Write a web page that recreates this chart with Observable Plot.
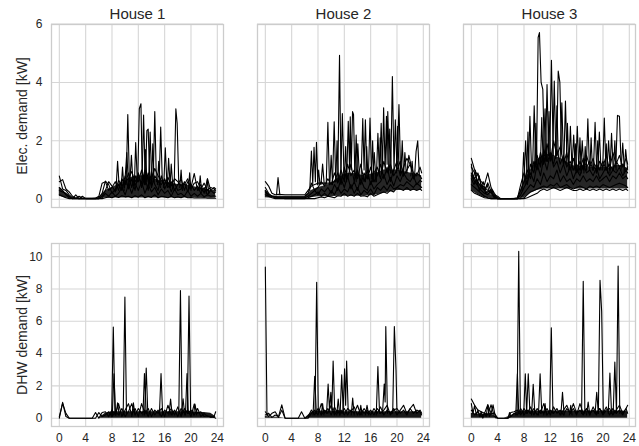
<!DOCTYPE html>
<html>
<head>
<meta charset="utf-8">
<script src="https://cdn.jsdelivr.net/npm/d3@7"></script>
<script src="https://cdn.jsdelivr.net/npm/@observablehq/plot@0.6"></script>
<style>
  html, body { margin: 0; padding: 0; background: #fff; }
  #chart svg { display: block; }
</style>
</head>
<body>
<div id="chart"></div>
<script>
// ---------- categories / ticks ----------
const houses = ["House 1", "House 2", "House 3"];
const xTicks = [0, 4, 8, 12, 16, 20, 24];
const elecTicks = [0, 2, 4, 6];
const dhwTicks = [0, 2, 4, 6, 8, 10];
const hours = [0,0.5,1,1.5,2,2.5,3,3.5, 4,4.5,5,5.5,6,6.5,7,7.5, 8,8.5,9,9.5,10,10.5,11,11.5,
  12,12.5,13,13.5,14,14.5,15,15.5, 16,16.5,17,17.5,18,18.5,19,19.5, 20,20.5,21,21.5,22,22.5,23,23.5, 23.75];
const envHours = [0,1,2,3,4,5,6,7,8,9,10,11,12,13,14,15,16,17,18,19,20,21,22,23,23.75];

// ---------- electricity, House 1 ----------
const elecH1 = [
  [0.79,0.35,0.30,0.15,0.05,0.03,0.10,0.03, 0.03,0.03,0.03,0.03,0.10,0.55,0.60,0.30,
   0.40,0.60,0.30,0.70,0.50,0.90,0.40,0.80, 0.60,1.00,0.50,0.90,0.40,0.80,0.60,0.50,
   0.70,0.40,0.60,0.30,0.50,0.70,0.30,0.60, 0.40,0.88,0.30,0.50,0.20,0.70,0.30,0.40, 0.35],
  [0.60,0.67,0.35,0.25,0.10,0.03,0.02,0.02, 0.02,0.02,0.02,0.02,0.05,0.20,0.62,0.50,
   0.20,0.35,0.50,0.30,0.80,0.35,0.70,0.30, 0.90,0.40,0.75,0.30,0.95,0.50,0.30,0.80,
   0.35,0.60,0.25,0.55,0.30,0.35,0.60,0.25, 0.50,0.30,0.45,0.20,0.40,0.15,0.30,0.20, 0.25],
  [0.30,0.25,0.20,0.10,0.02,0.02,0.02,0.10, 0.02,0.02,0.02,0.02,0.02,0.05,0.20,0.10,
   0.25,0.10,0.20,0.40,0.15,0.50,0.20,0.55, 0.30,0.60,0.20,0.50,0.25,0.40,0.15,0.35,
   0.20,0.30,0.10,0.35,0.15,0.20,0.10,0.30, 0.10,0.20,0.10,0.20,0.08,0.15,0.10,0.12, 0.10],
  [0.15,0.10,0.05,0.02,0.02,0.02,0.02,0.02, 0.02,0.02,0.02,0.02,0.02,0.02,0.05,0.08,
   0.05,0.10,0.06,0.12,0.08,0.10,0.05,0.12, 0.07,0.15,0.05,0.10,0.06,0.15,0.05,0.10,
   0.08,0.05,0.10,0.05,0.08,0.05,0.10,0.05, 0.06,0.04,0.05,0.04,0.05,0.03,0.04,0.03, 0.03],
  [0.40,0.30,0.15,0.05,0.02,0.15,0.02,0.02, 0.02,0.02,0.02,0.02,0.02,0.10,0.30,0.60,
   0.45,0.25,0.65,0.45,0.60,0.70,0.95,0.60, 0.75,0.55,1.00,0.65,0.70,1.05,0.80,0.65,
   0.50,0.75,0.45,0.70,0.60,0.45,0.50,0.70, 0.35,0.55,0.60,0.35,0.55,0.30,0.40,0.35, 0.30]
];
const elecH1Peaks = [
  [[10.15,0.5],[10.4,2.9],[10.65,0.6]],
  [[9.9,0.4],[10.25,1.6],[10.5,0.5]],
  [[11.4,0.5],[11.6,1.94],[11.85,0.6]],
  [[11.9,0.6],[12.15,3.1],[12.4,3.27],[12.6,0.7]],
  [[12.55,0.5],[12.8,2.88],[13.05,0.6]],
  [[13.05,0.5],[13.3,2.35],[13.5,2.4],[13.75,0.6]],
  [[13.55,0.5],[13.8,2.3],[14.05,0.5]],
  [[14.25,0.6],[14.5,3.0],[14.75,0.6]],
  [[15.15,0.5],[15.4,2.47],[15.65,0.6]],
  [[15.85,0.4],[16.1,1.76],[16.35,0.5]],
  [[17.45,0.5],[17.7,3.1],[17.9,2.6],[18.15,0.5]],
  [[9.4,0.4],[9.6,1.1],[9.85,0.3]],
  [[14.9,0.5],[15.1,1.3],[15.35,0.4]],
  [[16.8,0.4],[17.0,1.2],[17.25,0.4]],
  [[8.6,0.3],[8.85,1.3],[9.1,0.4]],
  [[10.7,0.5],[10.95,1.5],[11.2,0.5]],
  [[12.9,0.5],[13.1,1.7],[13.3,0.6]],
  [[14.0,0.5],[14.2,1.9],[14.4,0.6]],
  [[16.4,0.4],[16.6,1.4],[16.85,0.4]],
  [[18.3,0.4],[18.5,1.0],[18.7,0.3]],
  [[19.6,0.3],[19.8,0.9],[20.0,0.3]],
  [[21.2,0.3],[21.4,0.8],[21.6,0.3]],
  [[22.3,0.2],[22.5,0.7],[22.7,0.2]]
];
const elecH1Lo = [0.10,0.03,0.02,0.02,0.02,0.02,0.02,0.04,0.04,0.04,0.04,0.04,0.04,0.04,0.04,0.04,0.04,0.04,0.04,0.04,0.04,0.04,0.03,0.03,0.03];
const elecH1Hi = [0.40,0.20,0.03,0.03,0.03,0.03,0.05,0.30,0.40,0.50,0.65,0.75,0.80,0.80,0.75,0.65,0.60,0.55,0.50,0.50,0.45,0.40,0.35,0.30,0.30];

// ---------- electricity, House 2 ----------
const elecH2 = [
  [0.60,0.45,0.20,0.15,0.17,0.16,0.15,0.15, 0.15,0.15,0.15,0.15,0.15,0.30,0.45,0.50,
   0.55,0.55,0.55,0.55,0.55,0.60,0.90,0.50, 1.10,0.70,1.20,0.60,1.00,0.50,0.90,0.70,
   1.10,0.60,0.80,1.20,0.70,1.10,0.60,1.00, 1.30,0.80,1.10,1.40,1.20,0.90,0.80,1.10, 0.90],
  [0.40,0.20,0.10,0.05,0.05,0.05,0.05,0.05, 0.05,0.05,0.05,0.05,0.05,0.10,0.20,0.30,
   0.15,0.35,0.25,0.40,0.20,0.50,0.30,0.70, 0.40,0.80,0.35,0.60,0.30,0.70,0.40,0.30,
   0.60,0.35,0.50,0.60,0.85,0.50,0.75,0.45, 0.80,0.60,0.90,0.70,0.60,0.80,0.50,0.65, 0.60],
  [0.25,0.10,0.10,0.08,0.05,0.03,0.02,0.02, 0.02,0.02,0.02,0.02,0.02,0.05,0.10,0.15,
   0.25,0.10,0.20,0.10,0.30,0.15,0.40,0.20, 0.35,0.25,0.50,0.20,0.40,0.15,0.30,0.20,
   0.35,0.15,0.40,0.30,0.45,0.30,0.50,0.35, 0.40,0.50,0.45,0.60,0.50,0.40,0.55,0.45, 0.40],
  [0.15,0.10,0.05,0.02,0.02,0.02,0.02,0.02, 0.02,0.02,0.02,0.02,0.02,0.02,0.02,0.02,
   0.05,0.08,0.05,0.10,0.08,0.05,0.12,0.10, 0.20,0.10,0.15,0.10,0.20,0.10,0.12,0.08,
   0.20,0.10,0.15,0.20,0.25,0.20,0.30,0.25, 0.40,0.35,0.30,0.40,0.30,0.35,0.30,0.35, 0.30],
  [0.30,0.15,0.12,0.10,0.10,0.10,0.10,0.10, 0.10,0.10,0.10,0.10,0.10,0.20,0.55,0.30,
   0.40,0.60,0.45,0.70,0.50,0.90,0.55,1.00, 0.60,1.20,0.80,1.00,0.70,1.20,0.60,1.00,
   0.50,0.90,1.10,0.70,1.30,0.90,1.20,0.80, 1.00,1.30,0.80,1.00,1.20,0.70,0.90,0.80, 0.70]
];
const elecH2Peaks = [
  [[11.0,0.6],[11.27,4.93],[11.5,0.7]],
  [[9.25,0.5],[9.5,2.63],[9.75,0.5]],
  [[10.2,0.5],[10.46,2.65],[10.7,0.6]],
  [[6.75,0.3],[7.0,1.65],[7.2,0.5],[7.4,1.78],[7.6,0.6],[7.77,1.95],[8.0,0.5]],
  [[11.45,0.6],[11.7,2.93],[11.95,0.8]],
  [[12.35,0.6],[12.6,2.67],[12.8,1.0],[12.9,2.82],[13.05,1.0],[13.25,3.0],[13.4,2.9],[13.6,0.8]],
  [[14.55,0.7],[14.8,2.76],[15.0,1.0],[15.2,2.72],[15.45,0.7]],
  [[15.65,0.7],[15.9,2.78],[16.15,0.8]],
  [[16.85,0.6],[17.1,2.26],[17.35,0.8],[17.6,2.6],[17.8,1.0],[17.97,3.13],[18.2,1.0],[18.4,2.84],[18.5,1.2],[18.6,3.0],[18.85,1.0]],
  [[19.05,0.9],[19.3,4.2],[19.55,1.0],[19.75,2.72],[20.0,1.0],[20.3,3.24],[20.55,0.9]],
  [[22.65,0.7],[22.9,1.63],[23.15,2.0],[23.4,0.8]],
  [[1.7,0.15],[1.93,0.74],[2.2,0.15]],
  [[21.5,0.9],[21.8,1.5],[22.1,1.2]],
  [[13.8,0.6],[14.05,1.9],[14.3,0.7]],
  [[16.3,0.6],[16.55,1.6],[16.8,0.6]],
  [[12.0,0.6],[12.2,1.8],[12.4,0.7]],
  [[8.45,0.5],[8.7,1.2],[8.95,0.5]],
  [[9.8,0.5],[10.0,1.5],[10.2,0.6]],
  [[10.7,0.6],[10.9,2.0],[11.1,0.6]],
  [[13.6,0.7],[13.8,2.2],[14.0,0.8]],
  [[15.2,0.6],[15.4,1.8],[15.6,0.7]],
  [[16.1,0.7],[16.3,2.0],[16.5,0.6]],
  [[17.3,0.8],[17.45,2.1],[17.65,0.9]],
  [[18.7,0.9],[18.9,2.4],[19.1,0.9]],
  [[19.9,0.9],[20.1,2.5],[20.3,1.0]],
  [[20.6,0.9],[20.8,2.0],[21.0,0.8]],
  [[21.0,0.8],[21.2,1.6],[21.4,0.9]],
  [[22.1,0.8],[22.3,1.3],[22.5,0.7]],
  [[7.9,0.5],[8.1,1.0],[8.3,0.5]]
];
const elecH2Lo = [0.05,0.03,0.02,0.02,0.02,0.02,0.02,0.05,0.08,0.08,0.08,0.10,0.10,0.10,0.10,0.10,0.12,0.15,0.20,0.25,0.30,0.30,0.30,0.30,0.30];
const elecH2Hi = [0.30,0.10,0.08,0.08,0.08,0.08,0.08,0.30,0.40,0.45,0.55,0.70,0.85,0.90,0.85,0.80,0.85,0.90,1.00,1.00,1.00,0.95,0.90,0.85,0.80];

// ---------- electricity, House 3 ----------
const elecH3 = [
  [1.40,1.00,0.80,0.60,0.50,0.90,0.40,0.20, 0.05,0.02,0.02,0.02,0.02,0.02,0.05,0.30,
   0.60,1.00,0.70,1.30,1.00,1.60,1.20,1.90, 1.30,2.00,1.50,1.80,1.20,1.60,1.00,1.40,
   0.90,1.30,1.00,1.50,1.10,1.40,0.90,1.30, 1.10,1.50,1.00,1.60,1.20,1.50,1.10,1.40, 1.20],
  [1.10,0.90,0.60,0.40,0.30,0.56,0.25,0.10, 0.02,0.02,0.02,0.02,0.02,0.02,0.02,0.15,
   0.40,0.60,0.90,0.60,1.20,0.80,1.40,1.00, 1.60,1.10,1.30,0.90,1.20,0.80,1.10,0.70,
   1.00,0.80,1.20,0.90,1.00,0.80,1.10,0.70, 0.90,1.10,0.80,1.00,0.90,1.10,0.80,1.00, 0.90],
  [0.80,0.60,0.45,0.30,0.20,0.15,0.35,0.05, 0.02,0.02,0.02,0.02,0.02,0.02,0.02,0.05,
   0.20,0.35,0.50,0.40,0.70,0.50,0.90,0.60, 0.80,0.70,1.00,0.60,0.80,0.60,0.70,0.50,
   0.70,0.60,0.80,0.60,0.70,0.60,0.80,0.60, 0.70,0.80,0.60,0.80,0.70,0.90,0.70,0.80, 0.70],
  [0.50,0.40,0.30,0.20,0.10,0.05,0.02,0.02, 0.02,0.02,0.02,0.02,0.02,0.02,0.02,0.02,
   0.05,0.15,0.25,0.30,0.35,0.40,0.45,0.40, 0.50,0.45,0.55,0.40,0.45,0.50,0.40,0.35,
   0.40,0.45,0.40,0.35,0.45,0.40,0.45,0.40, 0.50,0.45,0.40,0.45,0.50,0.55,0.50,0.45, 0.40],
  [0.30,0.20,0.15,0.10,0.05,0.03,0.02,0.02, 0.02,0.02,0.02,0.02,0.02,0.02,0.02,0.02,
   0.02,0.05,0.10,0.15,0.20,0.30,0.35,0.30, 0.35,0.40,0.35,0.30,0.35,0.40,0.35,0.30,
   0.30,0.35,0.30,0.35,0.30,0.35,0.30,0.35, 0.30,0.35,0.30,0.35,0.30,0.35,0.30,0.35, 0.30],
  [0.90,0.70,0.90,0.50,0.40,0.30,0.20,0.05, 0.02,0.02,0.02,0.02,0.02,0.02,0.02,0.50,
   0.90,0.50,1.20,0.90,1.50,1.10,1.70,1.30, 1.50,1.20,1.70,1.20,1.50,1.10,1.30,1.00,
   1.20,1.00,1.40,1.10,1.30,1.00,1.20,1.00, 1.30,1.00,1.20,1.00,1.30,1.10,1.20,1.00, 1.10]
];
const elecH3Peaks = [
  [[9.9,1.2],[10.15,5.54],[10.35,5.71],[10.6,4.0],[10.86,3.76],[11.1,1.5]],
  [[11.25,1.3],[11.5,3.93],[11.75,1.5]],
  [[12.35,1.3],[12.6,4.05],[12.85,1.4]],
  [[11.9,1.4],[12.17,4.76],[12.45,1.5]],
  [[12.95,1.5],[13.2,4.39],[13.45,4.0],[13.7,1.6]],
  [[9.3,1.0],[9.55,3.2],[9.8,1.2]],
  [[8.65,0.8],[8.9,2.84],[9.15,1.0]],
  [[14.05,1.2],[14.3,3.36],[14.55,1.2]],
  [[14.8,1.0],[15.05,2.5],[15.3,1.0]],
  [[15.85,1.0],[16.1,2.5],[16.35,0.9]],
  [[17.45,1.0],[17.7,2.75],[17.95,1.0]],
  [[18.55,1.0],[18.8,2.63],[19.05,1.0]],
  [[19.95,1.0],[20.2,2.78],[20.45,1.0]],
  [[21.05,0.9],[21.3,2.26],[21.55,1.0]],
  [[21.95,1.1],[22.2,2.87],[22.5,2.84],[22.75,1.2]],
  [[22.75,1.0],[23.0,1.92],[23.25,1.0]],
  [[10.9,1.2],[11.2,3.1],[11.45,1.3]],
  [[13.5,1.4],[13.75,3.3],[14.0,1.3]],
  [[15.3,1.1],[15.55,2.2],[15.8,1.0]],
  [[16.6,1.0],[16.85,2.0],[17.1,1.0]],
  [[19.2,1.0],[19.45,2.3],[19.7,1.0]],
  [[20.6,1.0],[20.85,2.0],[21.1,1.0]],
  [[8.0,0.6],[8.25,2.0],[8.5,0.7]],
  [[7.7,0.3],[7.95,1.6],[8.2,0.5]],
  [[8.4,0.7],[8.6,2.3],[8.8,0.8]],
  [[9.6,1.0],[9.8,2.6],[10.0,1.1]],
  [[10.5,1.2],[10.7,2.8],[10.9,1.3]],
  [[11.6,1.3],[11.8,3.0],[12.0,1.4]],
  [[12.8,1.4],[13.0,3.2],[13.2,1.5]],
  [[14.4,1.2],[14.6,2.6],[14.8,1.2]],
  [[15.6,1.0],[15.8,1.9],[16.0,1.0]],
  [[16.3,1.0],[16.5,2.1],[16.7,0.9]],
  [[17.1,0.9],[17.3,1.8],[17.5,1.0]],
  [[18.0,1.0],[18.2,2.1],[18.4,1.0]],
  [[19.0,0.9],[19.2,2.0],[19.4,1.0]],
  [[20.3,1.0],[20.5,1.9],[20.7,0.9]],
  [[21.6,1.0],[21.8,2.0],[22.0,1.0]],
  [[23.2,0.9],[23.45,1.7],[23.75,1.0]],
  [[0,1.2],[0.3,0.7],[0.6,1.0],[0.9,0.5],[1.2,0.8],[1.5,0.4],[1.8,0.6],[2.1,0.3],[2.4,0.5],[2.8,0.2],[3.2,0.3],[3.6,0.1],[4.0,0.02]],
  [[0,0.7],[0.4,0.5],[0.8,0.7],[1.2,0.3],[1.7,0.45],[2.2,0.2],[2.7,0.3],[3.3,0.15],[4.0,0.1],[4.4,0.02]]
];
const elecH3Lo = [0.30,0.15,0.05,0.02,0.02,0.02,0.02,0.02,0.05,0.20,0.30,0.35,0.35,0.35,0.35,0.35,0.35,0.35,0.35,0.35,0.35,0.35,0.35,0.35,0.35];
const elecH3Hi = [0.90,0.60,0.35,0.15,0.02,0.02,0.02,0.03,0.60,1.00,1.35,1.50,1.55,1.45,1.35,1.20,1.10,1.15,1.10,1.05,1.10,1.05,1.15,1.15,1.05];

// ---------- DHW, House 1 ----------
const dhwH1 = [
  [0.00,0.98,0.10,0.00,0.00,0.00,0.00,0.00, 0.00,0.00,0.00,0.35,0.00,0.35,0.40,0.10,
   0.50,0.20,0.90,0.10,0.50,0.90,0.20,0.60, 0.10,0.90,0.30,0.60,0.10,0.50,0.30,0.60,
   0.10,0.80,0.20,0.50,0.10,0.60,0.30,0.50, 0.10,0.88,0.30,0.40,0.10,0.15,0.05,0.10, 0.40],
  [0.10,0.92,0.30,0.00,0.00,0.00,0.00,0.00, 0.00,0.00,0.00,0.00,0.35,0.10,0.20,0.40,
   0.10,0.40,0.20,0.60,0.10,0.40,0.90,0.20, 0.60,0.30,0.50,0.10,0.60,0.20,0.50,0.10,
   0.50,0.30,0.60,0.20,0.70,0.10,0.60,0.30, 0.50,0.20,0.60,0.10,0.30,0.10,0.12,0.05, 0.00]
];
const dhwH1Peaks = [
  [[7.95,0.2],[8.2,5.64],[8.45,0.3]],
  [[8.05,0.2],[8.3,2.75],[8.55,0.2]],
  [[9.7,0.2],[9.96,7.5],[10.2,0.3]],
  [[12.7,0.2],[12.93,2.76],[13.2,0.3]],
  [[12.95,0.2],[13.2,3.1],[13.45,0.2]],
  [[15.2,0.2],[15.45,2.76],[15.7,0.2]],
  [[18.15,0.3],[18.4,7.9],[18.65,0.3]],
  [[19.15,0.2],[19.4,2.76],[19.6,0.3]],
  [[19.45,0.3],[19.7,7.56],[19.95,0.3]],
  [[16.65,0.2],[16.9,1.19],[17.15,0.2]],
  [[18.55,0.2],[18.8,1.2],[19.05,0.2]],
  [[8.6,0.2],[8.85,0.95],[9.1,0.2]],
  [[11.0,0.1],[11.25,0.95],[11.5,0.2]],
  [[20.4,0.2],[20.6,0.88],[20.85,0.2]]
];
const dhwH1Hi = [0,0,0,0,0,0,0,0.30,0.40,0.40,0.40,0.40,0.40,0.40,0.40,0.40,0.40,0.40,0.40,0.40,0.40,0.35,0.35,0.30,0.10];

// ---------- DHW, House 2 ----------
const dhwH2 = [
  [0.40,0.10,0.30,0.40,0.05,0.50,0.00,0.00, 0.00,0.00,0.00,0.40,0.00,0.00,0.30,0.50,
   0.20,0.90,0.30,0.60,0.20,0.70,0.30,0.50, 0.20,0.60,0.40,0.70,0.20,0.60,0.30,0.50,
   0.20,0.60,0.30,0.70,0.20,0.50,0.30,0.60, 0.20,0.50,0.80,0.30,0.60,0.85,0.30,0.50, 0.30],
  [0.20,0.30,0.05,0.20,0.10,0.83,0.00,0.00, 0.00,0.00,0.00,0.00,0.00,0.10,0.50,0.20,
   0.60,0.20,0.50,0.30,0.80,0.20,0.50,0.30, 0.60,0.20,0.50,0.30,0.80,0.20,0.60,0.30,
   0.50,0.20,0.60,0.30,0.50,0.80,0.20,0.50, 0.60,0.30,0.50,0.20,0.60,0.30,0.50,0.40, 0.20]
];
const dhwH2Peaks = [
  [[0,9.35],[0.25,0.15],[0.5,0.3]],
  [[7.55,0.3],[7.8,8.42],[8.05,0.3]],
  [[7.25,0.2],[7.5,2.6],[7.75,0.3]],
  [[9.3,0.3],[9.54,2.12],[9.75,0.5],[9.95,1.6],[10.1,0.5],[10.3,3.54],[10.55,0.3]],
  [[10.85,0.2],[11.07,1.19],[11.3,0.2]],
  [[11.35,0.2],[11.6,2.69],[11.85,0.3]],
  [[11.8,0.3],[12.04,3.06],[12.2,0.8],[12.35,3.54],[12.6,0.3]],
  [[13.05,0.2],[13.27,1.25],[13.5,0.2]],
  [[16.85,0.2],[17.1,3.2],[17.35,0.3]],
  [[17.8,0.3],[18.06,2.12],[18.2,1.0],[18.3,5.67],[18.55,0.3]],
  [[19.35,0.3],[19.6,5.67],[19.85,3.0],[20.0,0.3]],
  [[14.3,0.2],[14.5,0.8],[14.7,0.2]],
  [[15.2,0.2],[15.45,0.8],[15.7,0.2]],
  [[8.5,0.2],[8.7,0.9],[8.9,0.2]]
];
const dhwH2Hi = [0.10,0.05,0.05,0,0,0,0,0.35,0.45,0.45,0.45,0.45,0.40,0.40,0.40,0.40,0.40,0.40,0.40,0.40,0.40,0.40,0.40,0.40,0.35];

// ---------- DHW, House 3 ----------
const dhwH3 = [
  [1.19,0.80,0.50,0.40,0.30,0.83,0.30,0.30, 0.00,0.00,0.00,0.00,0.35,0.40,0.50,0.20,
   0.60,0.30,0.70,0.20,0.60,0.30,0.90,0.20, 0.50,0.30,0.60,0.20,0.50,0.80,0.30,0.60,
   0.20,0.90,0.30,0.60,0.20,0.70,0.30,0.60, 0.20,0.50,0.60,0.20,0.50,0.80,0.30,0.60, 0.80],
  [0.50,0.20,0.40,0.10,0.30,0.20,0.83,0.10, 0.00,0.00,0.00,0.00,0.10,0.30,0.20,0.60,
   0.20,0.50,0.30,0.60,0.20,0.50,0.30,0.60, 0.20,0.70,0.30,0.50,0.20,0.60,0.30,0.90,
   0.30,0.50,0.20,0.60,0.30,0.50,0.20,0.60, 0.30,0.70,0.20,0.60,0.30,0.50,0.20,0.60, 0.30]
];
const dhwH3Peaks = [
  [[6.95,0.3],[7.2,10.33],[7.45,0.3]],
  [[6.75,0.2],[7.0,2.75],[7.2,0.3]],
  [[7.95,0.2],[8.2,2.75],[8.4,0.3],[8.65,2.75],[8.9,0.3]],
  [[9.15,0.2],[9.4,2.1],[9.65,0.3]],
  [[10.2,0.2],[10.45,2.75],[10.7,0.3]],
  [[11.9,0.3],[12.15,5.6],[12.4,0.3]],
  [[13.6,0.2],[13.85,1.6],[14.1,0.2]],
  [[16.75,0.3],[17.0,8.48],[17.25,0.3]],
  [[19.3,0.3],[19.55,8.54],[19.8,6.6],[20.05,0.3]],
  [[18.8,0.3],[19.05,1.6],[19.3,0.3]],
  [[20.8,0.3],[21.05,2.8],[21.3,0.3]],
  [[21.55,0.3],[21.8,3.48],[22.05,0.3],[22.3,9.42],[22.55,0.3]],
  [[0.0,0.9],[0.25,0.3],[0.5,0.8],[0.75,0.2],[1.0,0.5],[1.25,0.1],[1.5,0.4],[1.75,0.0],[2.0,0.3],[2.25,0.1],[2.5,0.83],[2.75,0.1],[3.0,0.3],[3.3,0.83],[3.55,0.3],[3.75,0.0]],
  [[17.5,0.2],[17.75,1.0],[18.0,0.2]],
  [[14.9,0.2],[15.1,0.8],[15.3,0.2]],
  [[11.0,0.2],[11.2,0.9],[11.4,0.2]],
  [[5.6,0.0],[5.8,0.35],[6.0,0.1]]
];
const dhwH3Hi = [0.30,0.25,0.25,0.30,0,0,0.15,0.40,0.45,0.45,0.45,0.45,0.45,0.45,0.45,0.45,0.45,0.45,0.45,0.45,0.45,0.45,0.45,0.45,0.40];

// ---------- table building ----------
function lineRows(house, profiles, peaks) {
  const rows = [];
  profiles.forEach((p, k) => p.forEach((v, i) => rows.push({house, id: house + "-b" + k, t: hours[i], v})));
  peaks.forEach((pk, k) => pk.forEach(([t, v]) => rows.push({house, id: house + "-p" + k, t, v})));
  return rows;
}
function envRows(house, lo, hi) {
  return envHours.map((t, i) => ({house, t, lo: lo ? lo[i] : 0, hi: hi[i]}));
}

const elecLines = [
  ...lineRows("House 1", elecH1, elecH1Peaks),
  ...lineRows("House 2", elecH2, elecH2Peaks),
  ...lineRows("House 3", elecH3, elecH3Peaks)
];
const elecEnv = [
  ...envRows("House 1", elecH1Lo, elecH1Hi),
  ...envRows("House 2", elecH2Lo, elecH2Hi),
  ...envRows("House 3", elecH3Lo, elecH3Hi)
];
const dhwLines = [
  ...lineRows("House 1", dhwH1, dhwH1Peaks),
  ...lineRows("House 2", dhwH2, dhwH2Peaks),
  ...lineRows("House 3", dhwH3, dhwH3Peaks)
];
const dhwEnv = [
  ...envRows("House 1", null, dhwH1Hi),
  ...envRows("House 2", null, dhwH2Hi),
  ...envRows("House 3", null, dhwH3Hi)
];

const FONT = "'Liberation Sans', Arial, Helvetica, sans-serif";
const GRID = "#d6d6d6";

function row({lines, env, envOpacity, yDomain, yTicks, label, top, height, marginTop, marginBottom}) {
  const marks = [
    Plot.gridX(xTicks, {stroke: GRID, strokeOpacity: 1, strokeWidth: 1.1}),
    Plot.gridY(yTicks, {stroke: GRID, strokeOpacity: 1, strokeWidth: 1.1}),
    Plot.frame({stroke: "#cccccc", strokeWidth: 1.3}),
    Plot.areaY(env, {x: "t", y1: "lo", y2: "hi", fx: "house", fill: "#000", fillOpacity: envOpacity, curve: "linear"}),
    Plot.line(lines, {x: "t", y: "v", z: "id", fx: "house", stroke: "#000", strokeWidth: 1.1, strokeLinejoin: "round"}),
    Plot.axisY(yTicks, {tickSize: 0, tickPadding: 9, fontSize: 12, label: null}),
    Plot.axisY(yTicks, {tickSize: 0, tickPadding: 9, fontSize: 14, tickFormat: () => "", label, labelAnchor: "center", labelArrow: "none", labelOffset: 34})
  ];
  if (top) {
    marks.push(Plot.axisFx({anchor: "top", label: null, tickSize: 0, tickPadding: 6, fontSize: 15}));
  } else {
    marks.push(Plot.axisX(xTicks, {tickSize: 0, tickPadding: 7, fontSize: 12, label: null}));
  }
  return Plot.plot({
    width: 639, height, marginLeft: 50, marginRight: 3, marginTop, marginBottom,
    style: {fontFamily: FONT, fontSize: "14px", color: "#262626", background: "#fff", overflow: "visible"},
    fx: {domain: houses, paddingInner: 0.164, paddingOuter: 0, label: null, axis: null},
    x: {domain: [-1.19, 24.94], axis: null},
    y: {domain: yDomain, axis: null},
    marks
  });
}

const el = document.getElementById("chart");
el.append(row({lines: elecLines, env: elecEnv, envOpacity: 0.85, yDomain: [-0.285, 5.985], yTicks: elecTicks,
  label: "Elec. demand [kW]", top: true, height: 225, marginTop: 24, marginBottom: 18}));
el.append(row({lines: dhwLines, env: dhwEnv, envOpacity: 0.9, yDomain: [-0.515, 10.815], yTicks: dhwTicks,
  label: "DHW demand [kW]", top: false, height: 221, marginTop: 18, marginBottom: 20}));
</script>
</body>
</html>
